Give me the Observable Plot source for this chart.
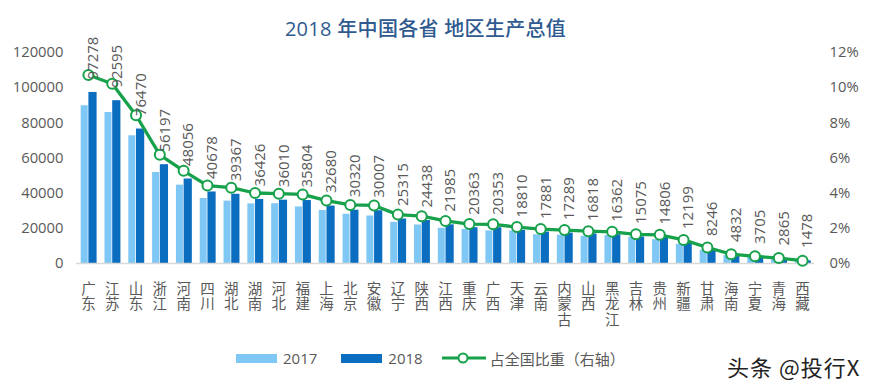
<!DOCTYPE html>
<html><head><meta charset="utf-8">
<script src="https://cdn.jsdelivr.net/npm/d3@7"></script>
<script src="https://cdn.jsdelivr.net/npm/@observablehq/plot@0.6"></script>
<style>
body{margin:0;background:#fff;font-family:"Open Sans","Noto Sans CJK SC",sans-serif;width:871px;height:390px;position:relative;overflow:hidden}
#title{position:absolute;top:0;left:0;width:851px;height:40px;padding-top:9px;box-sizing:border-box;text-align:center;font-family:"Open Sans","Noto Sans CJK SC",sans-serif;font-size:20px;line-height:40px;color:#2f5a8f;font-weight:500;letter-spacing:0.3px}
#chart{position:absolute;top:0;left:0}
#chart svg{overflow:visible;display:block}
#legend{position:absolute;top:346px;left:236px;height:24px;display:flex;align-items:center;font-size:15px;color:#595959;font-family:"Open Sans","Noto Sans CJK SC",sans-serif}
.sw{display:inline-block;width:41px;height:9px;margin-right:6px}
.item{display:flex;align-items:center}
#mark{position:absolute;left:727px;top:350px;font-size:22px;letter-spacing:1px;color:#222;font-family:"Noto Sans CJK SC",sans-serif}
</style></head>
<body>
<div id="chart"></div>
<div id="title">2018 年中国各省 地区生产总值</div>
<div id="legend"></div>
<div id="mark">头条 @投行X</div>
<script>
const provinces = ["广东","江苏","山东","浙江","河南","四川","湖北","湖南","河北","福建","上海","北京","安徽","辽宁","陕西","江西","重庆","广西","天津","云南","内蒙古","山西","黑龙江","吉林","贵州","新疆","甘肃","海南","宁夏","青海","西藏"];
const gdp2018 = [97278,92595,76470,56197,48056,40678,39367,36426,36010,35804,32680,30320,30007,25315,24438,21985,20363,20353,18810,17881,17289,16818,16362,15075,14806,12199,8246,4832,3705,2865,1478];
const gdp2017 = [89705,85869,72634,51768,44553,36980,35478,33903,34016,32182,30133,28015,27018,23409,21899,20006,19425,18523,18549,16376,16096,15528,15903,14945,13541,10882,7460,4463,3444,2625,1311];
const sharePct = [10.72,10.22,8.43,6.18,5.27,4.43,4.31,4.01,3.97,3.93,3.58,3.33,3.30,2.78,2.69,2.42,2.24,2.23,2.07,1.96,1.90,1.84,1.80,1.66,1.63,1.34,0.91,0.53,0.41,0.31,0.16];
const leftTicks = [0,20000,40000,60000,80000,100000,120000];
const rightTicks = [0,2,4,6,8,10,12];
const seriesNames = ["2017","2018","占全国比重（右轴）"];

const c17 = "#7fc7f5", c18 = "#0b6dc0", cLine = "#17a14b";
const data = provinces.map((p,i)=>({p, v17: gdp2017[i], v18: gdp2018[i], s: sharePct[i]}));
const pctToY = v => v * 10000;

const chart = Plot.plot({
  width: 871, height: 340,
  marginTop: 52, marginBottom: 77, marginLeft: 76, marginRight: 57,
  style: {fontFamily: '"Open Sans","Noto Sans CJK SC",sans-serif', fontSize: "14px", color: "#595959", overflow: "visible", background: "transparent"},
  x: {type: "band", domain: provinces, paddingInner: 0, paddingOuter: 0, round: false},
  y: {domain: [0, 120000], label: null},
  marks: [
    Plot.barY(data, {x: "p", y: "v17", fill: c17, insetLeft: 4.7, insetRight: 12.1}),
    Plot.barY(data, {x: "p", y: "v18", fill: c18, insetLeft: 12.4, insetRight: 3.2}),
    Plot.ruleY([0], {stroke: "#d9d9d9", strokeWidth: 1.5}),
    Plot.line(data, {x: "p", y: d => pctToY(d.s), stroke: cLine, strokeWidth: 3.3}),
    Plot.dot(data, {x: "p", y: d => pctToY(d.s), r: 5, fill: "white", stroke: cLine, strokeWidth: 2}),
    Plot.text(data, {x: "p", y: "v18", text: d => String(d.v18), rotate: -90, textAnchor: "start", dx: 5, dy: -13, fill: "#595959", fontSize: 15}),
    Plot.axisY({anchor: "left", ticks: leftTicks, tickSize: 0, tickPadding: 13, tickFormat: d3.format("d"), label: null, fontSize: 14.8, fill: "#595959"}),
    Plot.axisY({anchor: "right", ticks: rightTicks.map(pctToY), tickSize: 0, tickPadding: 15, tickFormat: d => (d/10000) + "%", label: null, fontSize: 14.8, fill: "#595959"}),
    Plot.axisX({anchor: "bottom", tickSize: 0, tickPadding: 19, tickFormat: d => [...d].join("\n"), lineHeight: 1.08, fontSize: 14.5, fontFamily: '"Noto Sans CJK SC",sans-serif', label: null, fill: "#595959"})
  ]
});
document.getElementById("chart").appendChild(chart);

const lg = document.getElementById("legend");
lg.innerHTML =
  `<span class="item" style="margin-right:24px"><span class="sw" style="background:${c17}"></span>${seriesNames[0]}</span>` +
  `<span class="item" style="margin-right:18px"><span class="sw" style="background:${c18}"></span>${seriesNames[1]}</span>` +
  `<span class="item"><svg width="46" height="14" style="margin-right:3px"><line x1="1" y1="7" x2="45" y2="7" stroke="${cLine}" stroke-width="3"/><circle cx="22" cy="7" r="4.5" fill="white" stroke="${cLine}" stroke-width="2"/></svg>${seriesNames[2]}</span>`;
</script>
</body></html>
